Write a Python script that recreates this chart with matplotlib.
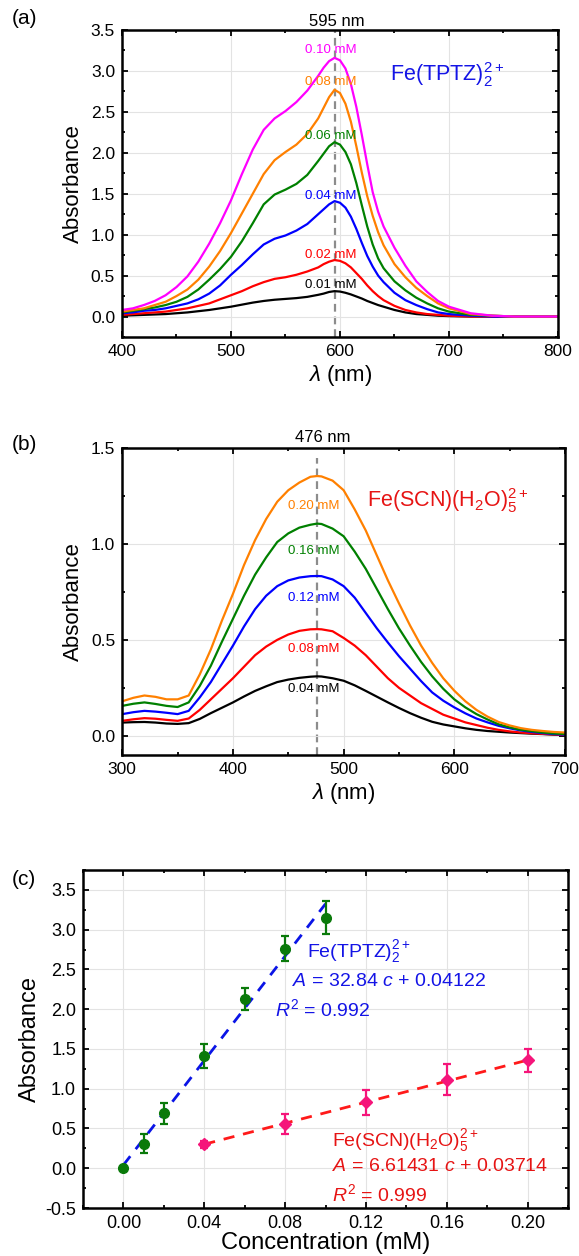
import matplotlib
matplotlib.use('Agg')
import matplotlib.pyplot as plt
from matplotlib.ticker import MultipleLocator, FormatStrFormatter

plt.rcParams['font.family'] = ['Liberation Sans', 'DejaVu Sans']
plt.rcParams['mathtext.fontset'] = 'custom'
plt.rcParams['mathtext.rm'] = 'Liberation Sans'
plt.rcParams['mathtext.it'] = 'Liberation Sans:italic'
plt.rcParams['mathtext.bf'] = 'Liberation Sans:bold'

# ---- panel (a): Fe(TPTZ)2 spectra ----
wl_a = [400, 410, 420, 430, 440, 450, 460, 470, 480, 490, 500, 510, 520, 530, 540, 550, 560, 570,
        580, 585, 590, 595, 600, 605, 610, 615, 620, 625, 630, 635, 640, 650, 660, 670, 680, 690,
        700, 720, 740, 760, 780, 800]
a_001 = [0.01, 0.015, 0.02, 0.025, 0.03, 0.04, 0.05, 0.065, 0.08, 0.10, 0.12, 0.145, 0.17, 0.19,
         0.205, 0.215, 0.225, 0.24, 0.265, 0.28, 0.30, 0.31, 0.305, 0.29, 0.27, 0.245, 0.22, 0.19,
         0.165, 0.14, 0.12, 0.08, 0.05, 0.03, 0.02, 0.01, 0.005, 0.0, 0.0, 0.0, 0.0, 0.0]
a_002 = [0.02, 0.03, 0.04, 0.05, 0.06, 0.08, 0.10, 0.13, 0.16, 0.21, 0.26, 0.31, 0.37, 0.42,
         0.46, 0.48, 0.51, 0.55, 0.60, 0.64, 0.67, 0.69, 0.68, 0.65, 0.60, 0.53, 0.46, 0.38,
         0.31, 0.25, 0.20, 0.13, 0.08, 0.05, 0.03, 0.02, 0.01, 0.0, 0.0, 0.0, 0.0, 0.0]
a_004 = [0.04, 0.05, 0.07, 0.08, 0.10, 0.13, 0.16, 0.21, 0.28, 0.38, 0.51, 0.63, 0.76, 0.88,
         0.95, 0.99, 1.05, 1.13, 1.25, 1.31, 1.37, 1.41, 1.39, 1.33, 1.22, 1.07, 0.90, 0.74,
         0.61, 0.50, 0.42, 0.29, 0.20, 0.14, 0.09, 0.05, 0.03, 0.01, 0.0, 0.0, 0.0, 0.0]
a_006 = [0.05, 0.07, 0.09, 0.11, 0.14, 0.18, 0.24, 0.33, 0.45, 0.58, 0.73, 0.92, 1.14, 1.37,
         1.49, 1.55, 1.62, 1.73, 1.90, 1.99, 2.08, 2.13, 2.10, 2.01, 1.86, 1.63, 1.36, 1.10,
         0.88, 0.71, 0.59, 0.43, 0.32, 0.23, 0.16, 0.10, 0.06, 0.02, 0.01, 0.0, 0.0, 0.0]
a_008 = [0.06, 0.08, 0.10, 0.14, 0.18, 0.25, 0.33, 0.45, 0.61, 0.80, 1.02, 1.26, 1.50, 1.74,
         1.91, 2.01, 2.10, 2.23, 2.42, 2.55, 2.68, 2.77, 2.73, 2.60, 2.38, 2.08, 1.76, 1.47,
         1.23, 1.03, 0.87, 0.64, 0.48, 0.35, 0.25, 0.16, 0.10, 0.03, 0.01, 0.0, 0.0, 0.0]
a_010 = [0.08, 0.10, 0.14, 0.19, 0.26, 0.36, 0.49, 0.67, 0.89, 1.14, 1.42, 1.74, 2.04, 2.28,
         2.42, 2.51, 2.62, 2.76, 2.94, 3.04, 3.12, 3.16, 3.13, 3.03, 2.84, 2.56, 2.22, 1.86,
         1.52, 1.28, 1.10, 0.84, 0.62, 0.43, 0.30, 0.19, 0.12, 0.04, 0.01, 0.0, 0.0, 0.0]
labels_a = ['0.01 mM', '0.02 mM', '0.04 mM', '0.06 mM', '0.08 mM', '0.10 mM']
label_y_a = [0.39, 0.75, 1.47, 2.20, 2.87, 3.25]

# ---- panel (b): Fe(SCN)(H2O)5 spectra ----
wl_b = [300, 310, 320, 330, 340, 350, 360, 370, 380, 390, 400, 410, 420, 430, 440, 450, 460, 470,
        476, 480, 490, 500, 510, 520, 530, 540, 550, 560, 570, 580, 590, 600, 610, 620, 630, 640,
        650, 660, 670, 680, 690, 700]
b_004 = [0.069, 0.071, 0.072, 0.069, 0.064, 0.062, 0.066, 0.088, 0.118, 0.146, 0.174, 0.205, 0.234,
         0.258, 0.28, 0.293, 0.302, 0.308, 0.31, 0.309, 0.30, 0.287, 0.263, 0.234, 0.204, 0.174,
         0.145, 0.118, 0.094, 0.073, 0.059, 0.049, 0.039, 0.031, 0.025, 0.021, 0.017, 0.014, 0.011,
         0.009, 0.006, 0.004]
b_008 = [0.078, 0.086, 0.092, 0.089, 0.083, 0.078, 0.09, 0.135, 0.19, 0.245, 0.30, 0.36, 0.42,
         0.465, 0.50, 0.528, 0.547, 0.555, 0.556, 0.555, 0.545, 0.51, 0.47, 0.42, 0.36, 0.30,
         0.25, 0.21, 0.17, 0.14, 0.11, 0.09, 0.07, 0.056, 0.042, 0.031, 0.023, 0.017, 0.013,
         0.01, 0.007, 0.004]
b_012 = [0.113, 0.123, 0.13, 0.126, 0.12, 0.113, 0.13, 0.20, 0.28, 0.375, 0.47, 0.57, 0.66,
         0.73, 0.78, 0.81, 0.825, 0.832, 0.833, 0.832, 0.815, 0.78, 0.72, 0.64, 0.56, 0.486,
         0.415, 0.35, 0.285, 0.226, 0.183, 0.148, 0.117, 0.09, 0.07, 0.052, 0.039, 0.028, 0.02,
         0.014, 0.009, 0.006]
b_016 = [0.156, 0.167, 0.174, 0.166, 0.156, 0.15, 0.174, 0.26, 0.365, 0.49, 0.61, 0.73, 0.84,
         0.93, 1.01, 1.055, 1.085, 1.10, 1.106, 1.104, 1.08, 1.04, 0.96, 0.87, 0.765, 0.66,
         0.56, 0.47, 0.385, 0.31, 0.245, 0.19, 0.148, 0.113, 0.085, 0.06, 0.044, 0.031, 0.024,
         0.017, 0.012, 0.009]
b_020 = [0.18, 0.198, 0.21, 0.203, 0.19, 0.19, 0.21, 0.32, 0.45, 0.60, 0.74, 0.89, 1.02,
         1.13, 1.22, 1.28, 1.32, 1.35, 1.354, 1.352, 1.33, 1.28, 1.18, 1.07, 0.94, 0.81,
         0.69, 0.575, 0.47, 0.38, 0.30, 0.235, 0.18, 0.135, 0.10, 0.072, 0.054, 0.04, 0.031,
         0.025, 0.02, 0.017]
labels_b = ['0.04 mM', '0.08 mM', '0.12 mM', '0.16 mM', '0.20 mM']
label_y_b = [0.243, 0.455, 0.72, 0.963, 1.198]

# ---- panel (c): calibration ----
c_tptz = [0.0, 0.01, 0.02, 0.04, 0.06, 0.08, 0.10]
A_tptz = [0.0, 0.31, 0.69, 1.41, 2.13, 2.76, 3.15]
err_tptz = [0.0, 0.12, 0.13, 0.15, 0.14, 0.155, 0.21]
c_scn = [0.04, 0.08, 0.12, 0.16, 0.20]
A_scn = [0.30, 0.555, 0.83, 1.11, 1.36]
err_scn = [0.045, 0.125, 0.16, 0.195, 0.145]
fit_tptz = (32.84, 0.04122)
fit_scn = (6.61431, 0.03714)

cols_a = ['black', '#ff0000', '#0000ff', '#008000', '#ff8000', '#ff00ff']
cols_b = ['black', '#ff0000', '#0000ff', '#008000', '#ff8000']

TICK = 12.5


def style_axes(ax, xmaj, xmin, ymaj, ymin, fs=TICK):
    ax.xaxis.set_major_locator(MultipleLocator(xmaj))
    ax.xaxis.set_minor_locator(MultipleLocator(xmin))
    ax.yaxis.set_major_locator(MultipleLocator(ymaj))
    ax.yaxis.set_minor_locator(MultipleLocator(ymin))
    ax.tick_params(which='both', direction='in', top=True, right=True, width=1.3, labelsize=fs)
    ax.tick_params(which='major', length=4.5, pad=5)
    ax.tick_params(which='minor', length=2.5)
    for s in ax.spines.values():
        s.set_linewidth(1.8)
    ax.grid(True, which='major', color='#e3e3e3', linewidth=0.8)
    ax.set_axisbelow(True)


fig = plt.figure(figsize=(5.79, 12.56), dpi=100)

# (a)
ax1 = fig.add_axes([0.2107, 0.7317, 0.753, 0.2444])
for ys, c in zip([a_001, a_002, a_004, a_006, a_008, a_010], cols_a):
    ax1.plot(wl_a, ys, color=c, lw=1.6)
ax1.vlines(595, -0.25, 3.5, colors='#8c8c8c', linestyles=(0, (3.5, 2.2)), lw=1.6, zorder=0.5)
for lab, yy, c in zip(labels_a, label_y_a, cols_a):
    ax1.text(591.7, yy, lab, color=c, fontsize=9.5, ha='center', va='center')
ax1.text(597, 3.60, '595 nm', fontsize=12, ha='center', va='center', clip_on=False)
ax1.text(646, 2.95, r'Fe(TPTZ)$_2^{2+}$', color='#1414e6', fontsize=15.5, ha='left', va='center')
ax1.set_xlim(400, 800)
ax1.set_ylim(-0.25, 3.5)
style_axes(ax1, 100, 50, 0.5, 0.25)
ax1.yaxis.set_major_formatter(FormatStrFormatter('%.1f'))
ax1.set_xlabel(r'$\lambda$ (nm)', fontsize=16, labelpad=3)
ax1.set_ylabel('Absorbance', fontsize=16, labelpad=5)
fig.text(0.02, 0.985, '(a)', fontsize=15, ha='left', va='center')

# (b)
ax2 = fig.add_axes([0.2112, 0.3989, 0.7646, 0.2444])
for ys, c in zip([b_004, b_008, b_012, b_016, b_020], cols_b):
    ax2.plot(wl_b, ys, color=c, lw=1.6)
ax2.vlines(476, -0.1, 1.45, colors='#8c8c8c', linestyles=(0, (3.5, 2.2)), lw=1.6, zorder=0.5)
for lab, yy, c in zip(labels_b, label_y_b, cols_b):
    ax2.text(473, yy, lab, color=c, fontsize=9.5, ha='center', va='center')
ax2.text(481, 1.554, '476 nm', fontsize=12, ha='center', va='center', clip_on=False)
ax2.text(521, 1.224, r'Fe(SCN)(H$_2$O)$_5^{2+}$', color='#e61414', fontsize=15.5, ha='left', va='center')
ax2.set_xlim(300, 700)
ax2.set_ylim(-0.1, 1.5)
style_axes(ax2, 100, 50, 0.5, 0.25)
ax2.yaxis.set_major_formatter(FormatStrFormatter('%.1f'))
ax2.set_xlabel(r'$\lambda$ (nm)', fontsize=16, labelpad=3)
ax2.set_ylabel('Absorbance', fontsize=16, labelpad=5)
fig.text(0.02, 0.646, '(b)', fontsize=15, ha='left', va='center')

# (c)
ax3 = fig.add_axes([0.1434, 0.0382, 0.8377, 0.2691])
cl = [c_tptz[0], c_tptz[-1]]
ax3.plot(cl, [fit_tptz[0] * x + fit_tptz[1] for x in cl], color='#0a14e6', lw=2,
         dashes=(4, 3.2), zorder=1)
cl = [c_scn[0], c_scn[-1]]
ax3.plot(cl, [fit_scn[0] * x + fit_scn[1] for x in cl], color='#ff1a1a', lw=2,
         dashes=(4, 3.2), zorder=1)
ax3.errorbar(c_tptz, A_tptz, yerr=err_tptz, fmt='o', color='#0a7a0a', ms=7,
             elinewidth=1.6, capsize=2.8, capthick=1.6, zorder=3)
ax3.errorbar(c_scn, A_scn, yerr=err_scn, fmt='D', color='#f5157a', ms=6.5,
             elinewidth=1.6, capsize=2.8, capthick=1.6, zorder=3)
ax3.text(0.0909, 2.725, r'Fe(TPTZ)$_2^{2+}$', color='#1414e6', fontsize=14, ha='left', va='center')
ax3.text(0.0833, 2.35, r'$A$ = 32.84 $c$ + 0.04122', color='#1414e6', fontsize=14, ha='left', va='center')
ax3.text(0.075, 2.0, r'$R^2$ = 0.992', color='#1414e6', fontsize=14, ha='left', va='center')
ax3.text(0.103, 0.35, r'Fe(SCN)(H$_2$O)$_5^{2+}$', color='#e61414', fontsize=14, ha='left', va='center')
ax3.text(0.103, 0.016, r'$A$ = 6.61431 $c$ + 0.03714', color='#e61414', fontsize=14, ha='left', va='center')
ax3.text(0.103, -0.32, r'$R^2$ = 0.999', color='#e61414', fontsize=14, ha='left', va='center')
ax3.set_xlim(-0.02, 0.22)
ax3.set_ylim(-0.5, 3.75)
style_axes(ax3, 0.04, 0.02, 0.5, 0.25, fs=13)
ax3.xaxis.set_major_formatter(FormatStrFormatter('%.2f'))
ax3.yaxis.set_major_formatter(FormatStrFormatter('%.1f'))
ax3.set_xlabel('Concentration (mM)', fontsize=17, labelpad=0)
ax3.set_ylabel('Absorbance', fontsize=17, labelpad=3)
fig.text(0.02, 0.30, '(c)', fontsize=15, ha='left', va='center')

fig.savefig('out.png', dpi=100)
